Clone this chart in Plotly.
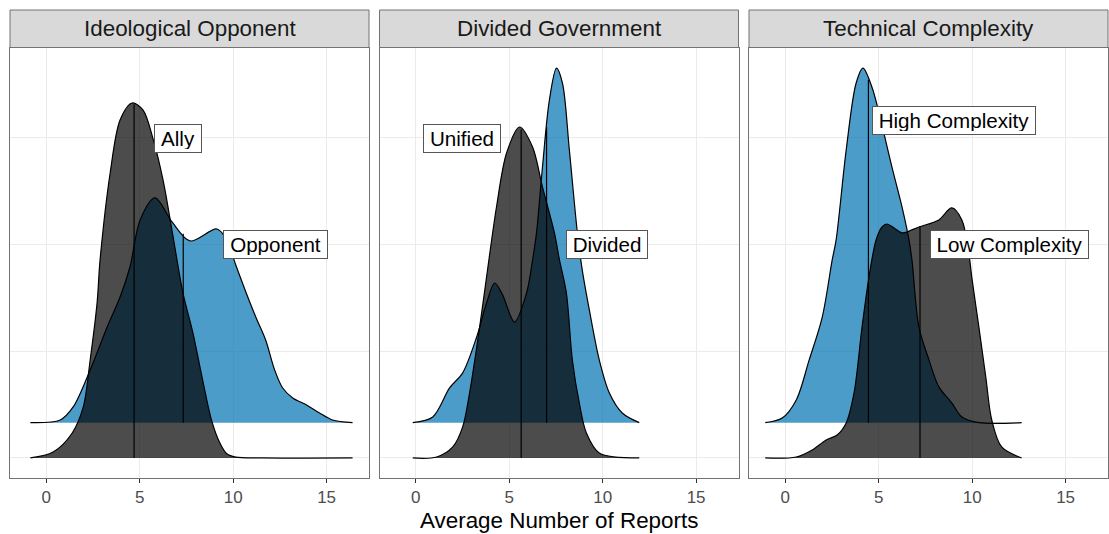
import numpy as np
import plotly.graph_objects as go

# ---------------- data ----------------
panel_titles = ["Ideological Opponent", "Divided Government", "Technical Complexity"]
x_tick_vals = [0, 5, 10, 15]
x_title = "Average Number of Reports"

# Ideological Opponent
ally_x = [-0.85, 0.37, 1.39, 1.98, 2.35, 2.72, 2.88, 3.42, 3.95, 4.59, 5.18, 5.70, 6.25, 6.78, 7.31, 7.85,
          8.38, 8.85, 9.29, 9.66, 10.14, 11.5, 16.39]
ally_h = [0.0, 0.056, 0.234, 0.478, 0.918, 1.453, 1.856, 2.671, 3.168, 3.327, 3.261, 3.00, 2.605, 2.08, 1.55,
          1.17, 0.72, 0.35, 0.14, 0.04, 0.008, 0.0, 0.0]
opponent_x = [-0.85, 0.75, 1.44, 2.35, 3.26, 3.95, 4.48, 5.02, 5.82, 6.73, 7.69, 9.13, 9.66, 10.14, 10.68,
              11.21, 11.74, 12.22, 12.65, 13.19, 13.93, 14.62, 15.32, 16.39]
opponent_h = [0.0, 0.025, 0.147, 0.494, 0.897, 1.178, 1.459, 1.898, 2.106, 1.881, 1.703, 1.815, 1.712, 1.478,
              1.225, 0.991, 0.775, 0.494, 0.325, 0.232, 0.166, 0.091, 0.025, 0.0]

# Divided Government
unified_x = [-0.16, 1.12, 1.98, 2.51, 2.88, 3.42, 3.84, 4.32, 4.86, 5.55, 6.25, 6.78, 7.42, 7.69, 8.06, 8.38,
             8.75, 9.13, 9.82, 11.96]
unified_h = [0.0, 0.009, 0.103, 0.291, 0.609, 1.228, 1.762, 2.352, 2.858, 3.102, 2.915, 2.540, 2.109, 1.856,
             1.546, 0.918, 0.516, 0.234, 0.047, 0.0]
divided_x = [-0.16, 0.91, 1.81, 2.51, 3.26, 3.79, 4.22, 4.64, 5.28, 5.93, 6.25, 6.46, 6.78, 7.15, 7.53, 7.85,
             8.22, 8.65, 8.91, 9.29, 9.82, 10.36, 11.05, 11.96]
divided_h = [0.0, 0.053, 0.325, 0.466, 0.803, 1.122, 1.309, 1.20, 0.943, 1.215, 1.523, 1.776, 2.394, 3.022,
             3.322, 3.181, 2.554, 1.776, 1.429, 1.054, 0.588, 0.278, 0.091, 0.0]

# Technical Complexity
high_x = [-1.07, -0.16, 0.59, 1.28, 1.98, 2.51, 2.72, 3.26, 3.79, 4.16, 4.64, 5.02, 5.71, 6.25, 6.62, 6.78,
          7.15, 7.69, 8.22, 8.91, 9.45, 10.36, 12.65]
high_h = [0.0, 0.044, 0.213, 0.588, 0.990, 1.523, 1.710, 2.554, 3.181, 3.322, 3.144, 2.901, 2.395, 2.020,
          1.712, 1.523, 0.897, 0.588, 0.335, 0.185, 0.053, 0.0, 0.0]
low_x = [-1.07, 0.59, 1.44, 2.19, 2.78, 3.26, 3.68, 4.11, 4.48, 4.86, 5.18, 5.44, 5.82, 6.25, 7.15, 8.22, 8.91,
         9.45, 9.82, 9.98, 10.36, 10.73, 11.05, 11.58, 12.65]
low_h = [0.0, 0.009, 0.075, 0.169, 0.216, 0.328, 0.609, 1.228, 1.696, 2.043, 2.165, 2.193, 2.156, 2.109, 2.165,
         2.231, 2.343, 2.231, 1.921, 1.696, 1.228, 0.759, 0.356, 0.103, 0.0]

# medians (vertical quantile lines)
opponent_median = 7.33
ally_median = 4.70
divided_median = 7.00
unified_median = 5.64
high_median = 4.45
low_median = 7.21

# group labels
label_text = [["Ally", "Opponent"], ["Unified", "Divided"], ["High Complexity", "Low Complexity"]]
label_x = [[7.05, 12.27], [2.50, 10.25], [9.02, 12.01]]
label_y = [[3.99, 3.00], [3.99, 3.00], [4.16, 3.00]]

# ---------------- styling / layout ----------------
W, H = 1109, 534
BLUE_FILL = "rgba(0,114,178,0.7)"
DARK_FILL = "rgba(0,0,0,0.7)"
UPPER_BASE = 1.331
LOWER_BASE = 1.0
FONT = "Liberation Sans, Arial, Helvetica, sans-serif"
label_box_w = [[40, 97], [70, 74], [156, 151]]  # inner label box widths (px)

panel_px = [(10, 369), (379.5, 738.5), (749, 1108)]
y_bottom_px, y_top_px = 477.7, 47.5
strip_top_px = 10

ridges = [
    ((opponent_x, opponent_h, opponent_median), (ally_x, ally_h, ally_median)),
    ((divided_x, divided_h, divided_median), (unified_x, unified_h, unified_median)),
    ((high_x, high_h, high_median), (low_x, low_h, low_median)),
]

fig = go.Figure()
for i, (upper, lower) in enumerate(ridges):
    xa = "x" if i == 0 else f"x{i+1}"
    ya = "y" if i == 0 else f"y{i+1}"
    for (xs, hs, med), base, fill in ((upper, UPPER_BASE, BLUE_FILL), (lower, LOWER_BASE, DARK_FILL)):
        xs = np.array(xs, dtype=float)
        hs = np.array(hs, dtype=float)
        fig.add_trace(go.Scatter(x=[xs[0], xs[-1]], y=[base, base], mode="lines",
                                 line=dict(width=0, color="rgba(0,0,0,0)"), hoverinfo="skip",
                                 showlegend=False, xaxis=xa, yaxis=ya))
        fig.add_trace(go.Scatter(x=xs, y=base + hs, mode="lines", fill="tonexty", fillcolor=fill,
                                 line=dict(color="black", width=1.2, shape="spline", smoothing=0.9),
                                 showlegend=False, xaxis=xa, yaxis=ya))
        top = base + float(np.interp(med, xs, hs))
        fig.add_trace(go.Scatter(x=[med, med], y=[base, top], mode="lines",
                                 line=dict(color="black", width=1.2), showlegend=False,
                                 xaxis=xa, yaxis=ya))

layout = dict(
    width=W, height=H, margin=dict(l=0, r=0, t=0, b=0),
    paper_bgcolor="white", plot_bgcolor="white", showlegend=False,
    font=dict(family=FONT, color="black"),
)
ydom = [1 - y_bottom_px / H, 1 - y_top_px / H]
shapes = []
annotations = []
for i, (x0p, x1p) in enumerate(panel_px):
    sfx = "" if i == 0 else str(i + 1)
    layout[f"xaxis{sfx}"] = dict(
        domain=[x0p / W, x1p / W], range=[-1.94, 17.27], anchor=f"y{sfx}",
        tickvals=x_tick_vals, ticks="outside", ticklen=4, tickwidth=1, tickcolor="#333333",
        tickfont=dict(size=17, color="#4D4D4D", family=FONT),
        showgrid=True, gridcolor="#EBEBEB", gridwidth=1, zeroline=False,
        showline=True, mirror=True, linecolor="#737373", linewidth=1,
    )
    layout[f"yaxis{sfx}"] = dict(
        domain=ydom, range=[0.815, 4.847], anchor=f"x{sfx}",
        tickvals=[1, 2, 3, 4], showticklabels=False, ticks="",
        showgrid=True, gridcolor="#EBEBEB", gridwidth=1, zeroline=False,
        showline=True, mirror=True, linecolor="#737373", linewidth=1,
    )
    shapes.append(dict(type="rect", xref="paper", yref="paper",
                       x0=x0p / W, x1=x1p / W, y0=1 - y_top_px / H, y1=1 - strip_top_px / H,
                       fillcolor="#D9D9D9", line=dict(color="#737373", width=1), layer="above"))
    annotations.append(dict(text=panel_titles[i], xref="paper", yref="paper",
                            x=(x0p + x1p) / 2 / W, y=1 - (strip_top_px + y_top_px) / 2 / H,
                            xanchor="center", yanchor="middle", showarrow=False,
                            font=dict(size=22.4, color="#1A1A1A", family=FONT)))
    for t, lx, ly, bw in zip(label_text[i], label_x[i], label_y[i], label_box_w[i]):
        annotations.append(dict(text=t, x=lx, y=ly, xref=f"x{sfx}", yref=f"y{sfx}",
                                showarrow=False, xanchor="center", yanchor="middle", align="center",
                                width=bw, height=21,
                                bgcolor="white", bordercolor="#555555", borderwidth=1, borderpad=3,
                                font=dict(size=20.6, color="black", family=FONT)))

annotations.append(dict(text=x_title, xref="paper", yref="paper", x=559 / W, y=1 - 520 / H,
                        xanchor="center", yanchor="middle", showarrow=False,
                        font=dict(size=22.4, color="black", family=FONT)))
layout["shapes"] = shapes
layout["annotations"] = annotations
fig.update_layout(**layout)
fig.write_html("out.html")
